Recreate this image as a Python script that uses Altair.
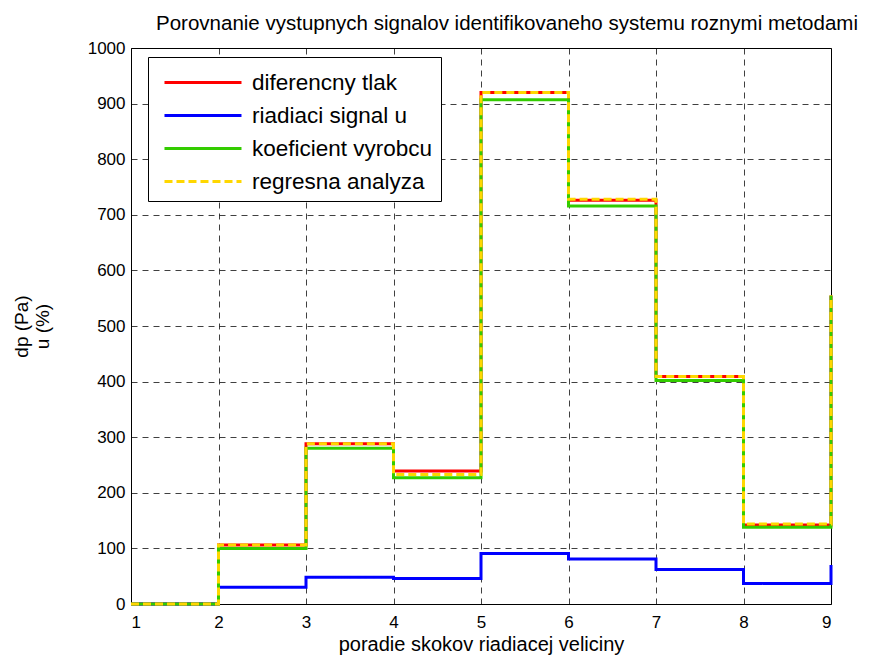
import altair as alt
import pandas as pd

# step index (x) and values of each signal
steps = [1, 2, 3, 4, 5, 6, 7, 8, 9]
dp_tlak = [0, 106, 288, 239, 920, 726, 409, 142, 555]
u_signal = [0, 30, 48, 46, 91, 81, 62, 37, 70]
koef_vyrobcu = [0, 100, 280, 227, 907, 716, 402, 138, 555]
regresia = [0, 106, 288, 233, 920, 728, 409, 144, 555]

names = ["diferencny tlak", "riadiaci signal u", "koeficient vyrobcu", "regresna analyza"]
colors = ["#ff0000", "#0000ff", "#33cc00", "#ffd700"]
dashes = [[1, 0], [1, 0], [1, 0], [8, 4]]

x_ticks = [1, 2, 3, 4, 5, 6, 7, 8, 9]
y_ticks = [0, 100, 200, 300, 400, 500, 600, 700, 800, 900, 1000]

rows = []
for name, vals in zip(names, [dp_tlak, u_signal, koef_vyrobcu, regresia]):
    for xv, yv in zip(steps, vals):
        rows.append({"krok": xv, "hodnota": yv, "signal": name})
df = pd.DataFrame(rows)

FONT = "Liberation Sans"

legend = alt.Legend(
    title=None,
    orient="none",
    legendX=17,
    legendY=9,
    fillColor="white",
    strokeColor="black",
    padding=8,
    labelFontSize=22.5,
    labelFont=FONT,
    labelColor="black",
    labelOffset=61,
    labelLimit=400,
    symbolType="M-0.57,0L4.3,0",
    symbolSize=1000,
    symbolStrokeWidth=3,
    rowPadding=4,
)

color = alt.Color("signal:N", scale=alt.Scale(domain=names, range=colors), legend=legend)
dash = alt.StrokeDash("signal:N", scale=alt.Scale(domain=names, range=dashes), legend=legend)

x = alt.X(
    "krok:Q",
    scale=alt.Scale(domain=[1, 9], nice=False),
    axis=alt.Axis(values=x_ticks, title="poradie skokov riadiacej veliciny", format="d"),
)
y = alt.Y(
    "hodnota:Q",
    scale=alt.Scale(domain=[0, 1000], nice=False),
    axis=alt.Axis(values=y_ticks, title=["dp (Pa)", "u (%)"], format="d"),
)

base = alt.Chart(df).mark_line(interpolate="step-after", strokeWidth=3).encode(
    x=x, y=y, color=color, strokeDash=dash
)

layers = [base.transform_filter(alt.datum.signal == n) for n in names]

chart = alt.layer(*layers).properties(
    width=700,
    height=556,
    title=alt.Title(
        "Porovnanie vystupnych signalov identifikovaneho systemu roznymi metodami",
        fontSize=20.5,
        font=FONT,
        fontWeight="normal",
        color="black",
        offset=5,
        dx=26,
    ),
    autosize=alt.AutoSizeParams(type="none"),
    padding={"left": 123, "top": 40, "right": 31, "bottom": 52},
).configure_view(
    stroke="black", strokeWidth=1
).configure_axis(
    domain=False,
    ticks=False,
    labelFont=FONT,
    labelFontSize=17,
    labelColor="black",
    titleFont=FONT,
    titleFontWeight="normal",
    titleColor="black",
    grid=True,
    gridColor="#000000",
    gridDash=[6, 5],
    gridOpacity=0.75,
    gridWidth=1,
    labelPadding=6,
).configure_axisY(
    titleFontSize=19,
    titleLineHeight=21,
    titlePadding=35,
).configure_axisX(
    titleFontSize=20,
    labelPadding=10,
    titlePadding=4,
)

chart.save("out.html", embed_options={"renderer": "svg", "actions": False})
